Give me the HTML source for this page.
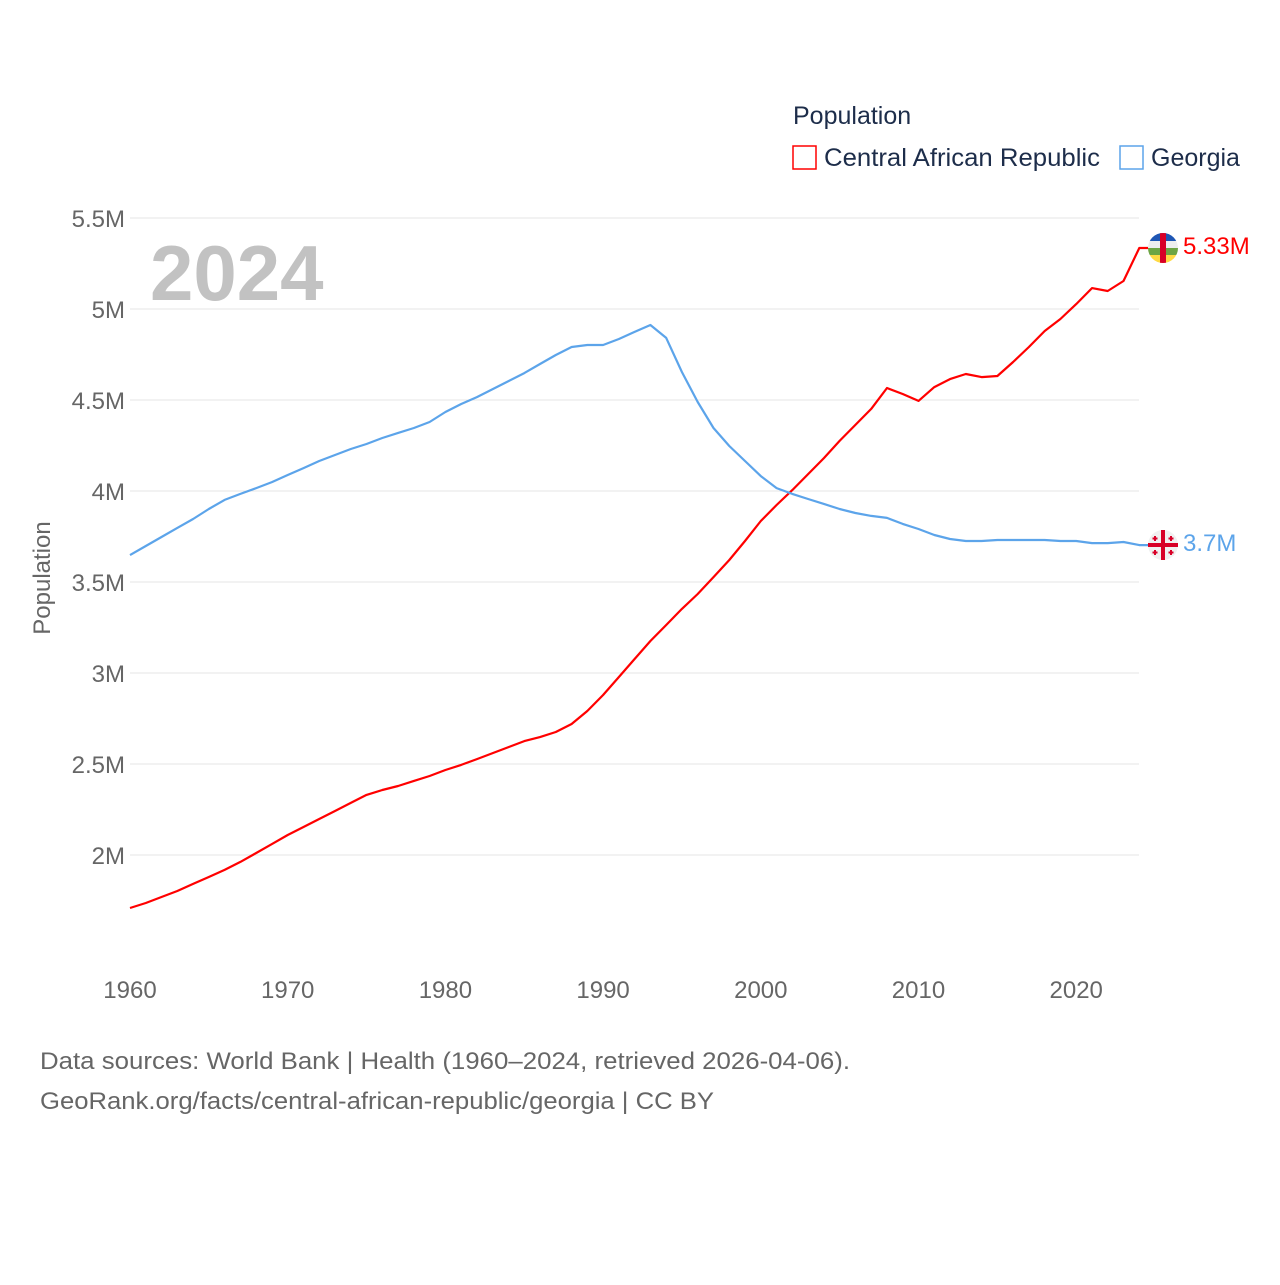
<!DOCTYPE html>
<html><head><meta charset="utf-8"><style>
html,body{margin:0;padding:0;background:#fff;}
svg text{font-family:"Liberation Sans",sans-serif;}
</style></head><body>
<svg id="chart" width="1280" height="1280" viewBox="0 0 1280 1280" xmlns="http://www.w3.org/2000/svg">
<g id="grid"></g>
<g id="yticks"></g>
<g id="xticks"></g>
<text x="150" y="300" font-size="78" font-weight="bold" fill="#c2c2c2">2024</text>
<text x="50" y="578" font-size="24" fill="#666" text-anchor="middle" transform="rotate(-90 50 578)">Population</text>
<g id="series"></g>
<g>
<text x="793" y="124" font-size="25" fill="#1d2d4a">Population</text>
<g>
<rect x="793" y="146" width="23" height="23" fill="none" stroke="#ff0000" stroke-width="1.5"/>
<text x="824" y="166" font-size="25" fill="#1d2d4a" textLength="276" lengthAdjust="spacingAndGlyphs">Central African Republic</text></g>
<g>
<rect x="1120" y="146" width="23" height="23" fill="none" stroke="#5ca4ea" stroke-width="1.5"/>
<text x="1151" y="166" font-size="25" fill="#1d2d4a">Georgia</text></g>
</g>
<g>
<clipPath id="cc"><circle cx="1163" cy="248" r="15"/></clipPath>
<g clip-path="url(#cc)">
<rect x="1148" y="233" width="30" height="8" fill="#1e56b4"/>
<rect x="1148" y="241" width="30" height="7" fill="#eeeeee"/>
<rect x="1148" y="248" width="30" height="7" fill="#6da544"/>
<rect x="1148" y="255" width="30" height="8" fill="#ffda44"/>
<rect x="1160" y="233" width="6" height="30" fill="#d80027"/></g></g>
<g>
<circle cx="1163" cy="545" r="15" fill="#f0f0f0"/>
<rect x="1148" y="543" width="30" height="4" fill="#d80027"/>
<rect x="1161" y="530" width="4" height="30" fill="#d80027"/>
<g fill="#d80027"><rect x="1154" y="536" width="2" height="5"/><rect x="1152.5" y="537.5" width="5" height="2"/>
<rect x="1170" y="536" width="2" height="5"/><rect x="1168.5" y="537.5" width="5" height="2"/>
<rect x="1154" y="550" width="2" height="5"/><rect x="1152.5" y="551.5" width="5" height="2"/>
<rect x="1170" y="550" width="2" height="5"/><rect x="1168.5" y="551.5" width="5" height="2"/></g></g>
<text x="1183" y="254" font-size="24" fill="#ff0000">5.33M</text>
<text x="1183" y="551" font-size="24" fill="#5ca4ea">3.7M</text>
<text x="40" y="1069" font-size="24" fill="#666" textLength="810" lengthAdjust="spacingAndGlyphs">Data sources: World Bank | Health (1960–2024, retrieved 2026-04-06).</text>
<text x="40" y="1109" font-size="24" fill="#666" textLength="674" lengthAdjust="spacingAndGlyphs">GeoRank.org/facts/central-african-republic/georgia | CC BY</text>
</svg>
<script>
const startYear = 1960;
const xTickYears = [1960,1970,1980,1990,2000,2010,2020];
const yTickValues = [2,2.5,3,3.5,4,4.5,5,5.5];
const yTickLabels = ["2M","2.5M","3M","3.5M","4M","4.5M","5M","5.5M"];
const carValues = [1.709,1.736,1.769,1.802,1.841,1.879,1.918,1.962,2.011,2.060,2.110,2.154,2.198,2.242,2.286,2.330,2.357,2.379,2.407,2.434,2.467,2.495,2.527,2.560,2.593,2.626,2.648,2.676,2.720,2.791,2.879,2.978,3.077,3.176,3.264,3.352,3.434,3.527,3.621,3.725,3.835,3.923,4.005,4.093,4.181,4.275,4.363,4.451,4.566,4.533,4.495,4.571,4.615,4.643,4.626,4.632,4.709,4.791,4.879,4.945,5.027,5.115,5.099,5.154,5.335];
const georgiaValues = [3.648,3.698,3.747,3.797,3.846,3.901,3.951,3.984,4.016,4.049,4.088,4.126,4.165,4.198,4.231,4.258,4.291,4.319,4.346,4.379,4.434,4.478,4.516,4.560,4.604,4.648,4.698,4.747,4.791,4.802,4.802,4.835,4.874,4.912,4.841,4.654,4.489,4.346,4.247,4.165,4.082,4.016,3.984,3.956,3.929,3.901,3.879,3.863,3.852,3.819,3.791,3.758,3.736,3.725,3.725,3.731,3.731,3.731,3.731,3.725,3.725,3.714,3.714,3.720,3.703];
const NS="http://www.w3.org/2000/svg";
function xs(yr){return 130+(yr-1960)*15.77;}
function ys(v){return 218+(5.5-v)*182;}
function mk(tag,attrs,parent){const e=document.createElementNS(NS,tag);for(const k in attrs)e.setAttribute(k,attrs[k]);parent.appendChild(e);return e;}
const grid=document.getElementById('grid'),yt=document.getElementById('yticks'),xt=document.getElementById('xticks'),ser=document.getElementById('series');
yTickValues.forEach((v,i)=>{
  const l=mk('line',{x1:130,x2:1139,y1:ys(v),y2:ys(v),stroke:'#e6e6e6','stroke-width':1},grid);
  
  
  const t=mk('text',{x:125,y:ys(v)+9,'font-size':24,fill:'#666','text-anchor':'end'},yt);
  t.textContent=yTickLabels[i];
  
  
});
xTickYears.forEach(y=>{
  const t=mk('text',{x:xs(y),y:998,'font-size':24,fill:'#666','text-anchor':'middle'},xt);
  t.textContent=y;
  
  
});
function drawLine(vals,color,name){
  let d='';vals.forEach((v,i)=>{d+=(i?'L':'M')+xs(startYear+i).toFixed(1)+' '+ys(v).toFixed(1);});
  const last=vals[vals.length-1];
  d+='L'+(xs(startYear+vals.length-1)+9).toFixed(1)+' '+ys(last).toFixed(1);
  const p=mk('path',{d:d,fill:'none',stroke:color,'stroke-width':2.2,'stroke-linejoin':'round'},ser);
  
  
}
drawLine(carValues,'#ff0000','car-line');
drawLine(georgiaValues,'#5ca4ea','georgia-line');
</script>
</body></html>
